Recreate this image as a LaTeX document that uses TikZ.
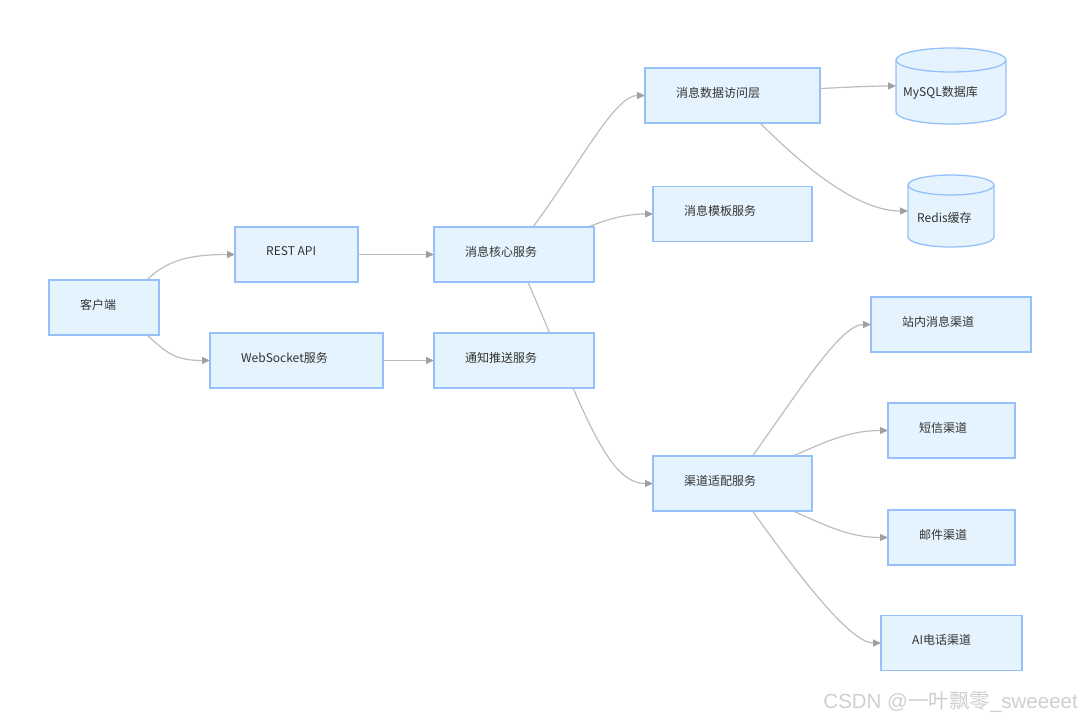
\documentclass[tikz,border=0pt]{standalone}
\usepackage{fontspec}
\setmainfont{Noto Sans CJK SC}
\newfontfamily\wmfont{Liberation Sans}
\usetikzlibrary{arrows.meta,calc}
\definecolor{boxfill}{HTML}{E4F3FD}
\definecolor{boxline}{HTML}{96C0FA}
\definecolor{edgecol}{HTML}{BDBDBD}
\definecolor{tipcol}{HTML}{A0A0A0}
\definecolor{txtcol}{HTML}{333333}
\definecolor{wmcol}{HTML}{CFCFCF}
\pgfdeclarelayer{edges}
\pgfsetlayers{edges,main}
\begin{document}
\begin{tikzpicture}[x=1pt,y=1pt,
  box/.style={draw=boxline, fill=boxfill, line width=1.3pt, minimum width=#1, minimum height=55pt, inner sep=0pt, outer sep=0pt},
  dbanchor/.style n args={2}{minimum width=#1, minimum height=#2, inner sep=0pt, outer sep=0pt},
  cyl/.style={draw=boxline, fill=boxfill, line width=1.3pt},
  lbl/.style={anchor=west, text=txtcol, font=\fontsize{12}{14}\selectfont, inner sep=0pt},
  edge/.style={draw=edgecol, line width=1.2pt, -{Triangle[length=8pt,width=7pt,color=tipcol]}}
]
\useasboundingbox (0,0) rectangle (1080,-720);

% boxes
\node[box=110] (client) at (104,-307.5) {};
\node[box=123] (rest) at (296.5,-254.5) {};
\node[box=173] (ws) at (296.5,-360.5) {};
\node[box=160] (core) at (514,-254.5) {};
\node[box=160] (push) at (514,-360.5) {};
\node[box=175] (dal) at (732.5,-95.5) {};
\node[box=159] (tmpl) at (732.5,-214) {};
\node[box=159] (chan) at (732.5,-483.5) {};
\node[box=160] (inmsg) at (951,-324.5) {};
\node[box=127] (sms) at (951.5,-430.5) {};
\node[box=127] (mail) at (951.5,-537.5) {};
\node[box=141] (ai) at (951.5,-643) {};

% cylinders
\node[dbanchor={110pt}{76pt}] (mysql) at (951,-86) {};
\path[cyl] ([yshift=-12pt]mysql.north west) -- ([yshift=12pt]mysql.south west)
  arc[start angle=180,end angle=360,x radius=55pt,y radius=12pt]
  -- ([yshift=-12pt]mysql.north east)
  arc[start angle=0,end angle=180,x radius=55pt,y radius=12pt] -- cycle;
\draw[boxline, line width=1.3pt] ([yshift=-12pt]mysql.north west)
  arc[start angle=180,end angle=360,x radius=55pt,y radius=12pt];

\node[dbanchor={86pt}{72pt}] (redis) at (951,-211) {};
\path[cyl] ([yshift=-10pt]redis.north west) -- ([yshift=10pt]redis.south west)
  arc[start angle=180,end angle=360,x radius=43pt,y radius=10pt]
  -- ([yshift=-10pt]redis.north east)
  arc[start angle=0,end angle=180,x radius=43pt,y radius=10pt] -- cycle;
\draw[boxline, line width=1.3pt] ([yshift=-10pt]redis.north west)
  arc[start angle=180,end angle=360,x radius=43pt,y radius=10pt];

% labels
\node[lbl] (client-t) at ([xshift=31pt,yshift=3pt]client.west) {客户端};
\node[lbl] (rest-t) at ([xshift=31pt,yshift=3pt]rest.west) {REST API};
\node[lbl] (ws-t) at ([xshift=31pt,yshift=3pt]ws.west) {WebSocket服务};
\node[lbl] (core-t) at ([xshift=31pt,yshift=3pt]core.west) {消息核心服务};
\node[lbl] (push-t) at ([xshift=31pt,yshift=3pt]push.west) {通知推送服务};
\node[lbl] (dal-t) at ([xshift=31pt,yshift=3pt]dal.west) {消息数据访问层};
\node[lbl] (tmpl-t) at ([xshift=31pt,yshift=3pt]tmpl.west) {消息模板服务};
\node[lbl] (chan-t) at ([xshift=31pt,yshift=3pt]chan.west) {渠道适配服务};
\node[lbl] (inmsg-t) at ([xshift=31pt,yshift=3pt]inmsg.west) {站内消息渠道};
\node[lbl] (sms-t) at ([xshift=31pt,yshift=3pt]sms.west) {短信渠道};
\node[lbl] (mail-t) at ([xshift=31pt,yshift=3pt]mail.west) {邮件渠道};
\node[lbl] (ai-t) at ([xshift=31pt,yshift=3pt]ai.west) {AI电话渠道};
\node[lbl] (mysql-t) at ([xshift=7pt,yshift=-7pt]mysql.west) {MySQL数据库};
\node[lbl] (redis-t) at ([xshift=9pt,yshift=-7pt]redis.west) {Redis缓存};

% edges
\begin{pgfonlayer}{edges}
\draw[edge] ([xshift=-12pt]client.north east) .. controls +(20,20) and +(-45,0) .. (rest.west);
\draw[edge] ([xshift=-12pt]client.south east) .. controls +(20,-18) and +(-35,0) .. (ws.west);
\draw[edge] (rest.east) -- (core.west);
\draw[edge] (ws.east) -- (push.west);
\draw[edge] ([xshift=19pt]core.north) .. controls +(50,68) and +(-30,0) .. (dal.west);
\draw[edge] ([xshift=-6pt]core.north east) .. controls +(15,6) and +(-30,0) .. (tmpl.west);
\draw[edge] ([xshift=14pt]core.south) .. controls +(56,-130) and +(-46,0) .. (chan.west);
\draw[edge] ([yshift=7pt]dal.east) .. controls +(25,1) and +(-30,0) .. (mysql.west);
\draw[edge] ([xshift=27.5pt]dal.south) .. controls +(45,-45) and +(-50,0) .. (redis.west);
\draw[edge] ([xshift=20pt]chan.north) .. controls +(50,70) and +(-30,0) .. (inmsg.west);
\draw[edge] ([xshift=-19pt]chan.north east) .. controls +(30,13) and +(-40,0) .. (sms.west);
\draw[edge] ([xshift=-19pt]chan.south east) .. controls +(30,-13) and +(-40,0) .. (mail.west);
\draw[edge] ([xshift=20pt]chan.south) .. controls +(50,-70) and +(-30,0) .. (ai.west);
\end{pgfonlayer}

% watermark
\node[anchor=east, inner sep=0pt, text=wmcol, font=\fontsize{20.5}{24}\selectfont] (wm) at (1078,-702)
  {{\wmfont CSDN @}一叶飘零{\wmfont \_sweeeet}};
\end{tikzpicture}
\end{document}
